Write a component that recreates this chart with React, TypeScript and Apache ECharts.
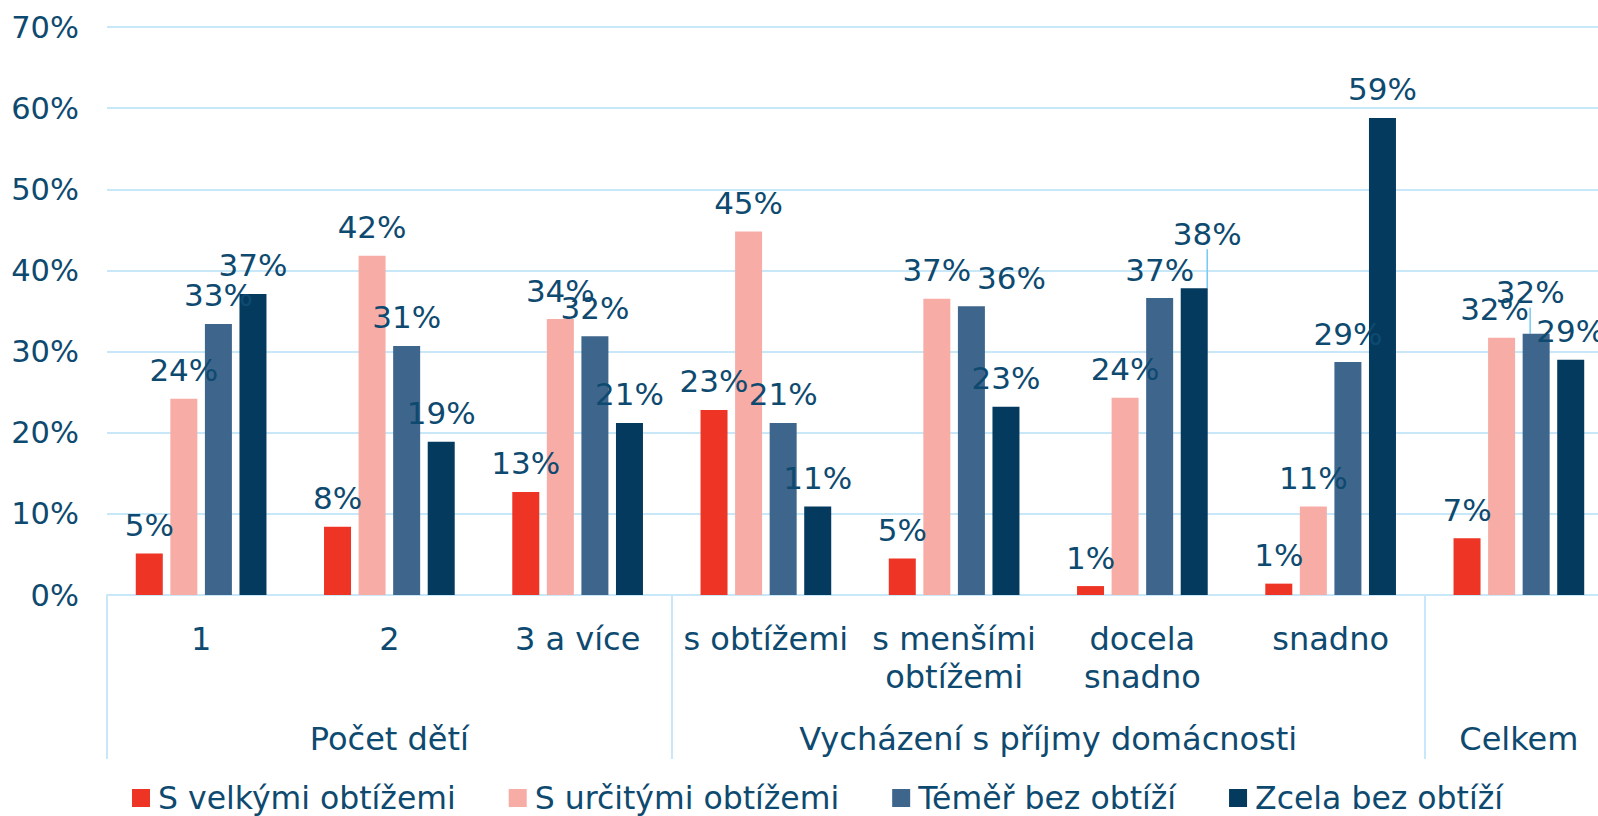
import React, { useEffect, useRef } from "react";
import * as echarts from "echarts";

const categories = ["1", "2", "3 a více", "s obtížemi", "s menšími\nobtížemi", "docela\nsnadno", "snadno", ""];
const groupNames = ["Počet dětí", "Vycházení s příjmy domácnosti", "Celkem"];
const groupSpans = [3, 4, 1];

const seriesNames = ["S velkými obtížemi", "S určitými obtížemi", "Téměř bez obtíží", "Zcela bez obtíží"];
const velkeObtize = [5.1, 8.4, 12.7, 22.8, 4.5, 1.1, 1.4, 7.0];
const urciteObtize = [24.2, 41.8, 34.0, 44.8, 36.5, 24.3, 10.9, 31.7];
const temerBez = [33.4, 30.7, 31.9, 21.2, 35.6, 36.6, 28.7, 32.2];
const zcelaBez = [37.1, 18.9, 21.2, 10.9, 23.2, 37.8, 58.8, 29.0];
const yTicks = [0, 10, 20, 30, 40, 50, 60, 70];

const seriesValues = [velkeObtize, urciteObtize, temerBez, zcelaBez];
const colors = ["#EE3425", "#F7ADA6", "#3E658B", "#033A5E"];

const TEXT = "#0E4A70";
const GRID = "#C8E8F9";
const FONT = "DejaVu Sans";

// manual label adjustments (series-index, data-index)
const labelShifts: Record<string, { dx: number; dy: number; line?: boolean }> = {
  "2-4": { dx: 40, dy: 0 },
  "1-7": { dx: -7, dy: 0 },
  "3-5": { dx: 13, dy: -26, line: true },
  "2-7": { dx: -6, dy: -13, line: true },
};

export default function App() {
  const ref = useRef<HTMLDivElement>(null);
  useEffect(() => {
    if (!ref.current) return;
    const chart = echarts.init(ref.current, null, { renderer: "svg" });

    const boundaries: number[] = [];
    const centers: number[] = [];
    let acc = 0;
    groupSpans.forEach((s) => {
      boundaries.push(acc);
      centers.push(acc + s / 2);
      acc += s;
    });

    const series = seriesValues.map((vals, si) => ({
      name: seriesNames[si],
      type: "bar",
      barWidth: 27,
      barGap: "28%",
      itemStyle: { color: colors[si] },
      label: {
        show: true,
        position: "top",
        distance: 13,
        color: TEXT,
        fontFamily: FONT,
        fontSize: 31,
        formatter: (p: any) => Math.round(p.value) + "%",
      },
      labelLayout: (params: any) => {
        const s = labelShifts[`${si}-${params.dataIndex}`];
        if (s) return { dx: s.dx, dy: s.dy };
        return {};
      },
      data: vals.map((v, di) => {
        const s = labelShifts[`${si}-${di}`];
        if (!s || !s.line) return v;
        return {
          value: v,
          labelLine: { show: true, lineStyle: { color: "#74CBF3", width: 1.5 } },
        };
      }),
    }));

    chart.setOption({
      animation: false,
      backgroundColor: "#ffffff",
      textStyle: { fontFamily: FONT },
      grid: { left: 107, top: 27, bottom: 221, right: 7, containLabel: false },
      legend: {
        left: 127,
        top: 777,
        icon: "rect",
        itemWidth: 18,
        itemHeight: 18,
        itemGap: 53,
        data: seriesNames,
        textStyle: {
          color: TEXT,
          fontFamily: FONT,
          fontSize: 31.5,
          lineHeight: 32,
          padding: [0, 0, 0, 3],
        },
      },
      xAxis: [
        {
          type: "category",
          data: categories,
          position: "bottom",
          axisLine: { show: true, lineStyle: { color: GRID, width: 2 } },
          axisTick: {
            show: true,
            length: 164,
            interval: (index: number) => boundaries.indexOf(index) >= 0,
            lineStyle: { color: GRID, width: 2 },
          },
          axisLabel: {
            interval: 0,
            margin: 25,
            color: TEXT,
            fontFamily: FONT,
            fontSize: 32,
            lineHeight: 38,
          },
        },
        {
          type: "value",
          position: "bottom",
          min: 0,
          max: acc,
          interval: 0.5,
          axisLine: { show: false },
          axisTick: { show: false },
          splitLine: { show: false },
          axisLabel: {
            margin: 125,
            color: TEXT,
            fontFamily: FONT,
            fontSize: 32,
            lineHeight: 38,
            formatter: (v: number) => {
              const idx = centers.findIndex((c) => Math.abs(c - v) < 1e-6);
              return idx >= 0 ? groupNames[idx] : "";
            },
          },
        },
      ],
      yAxis: {
        type: "value",
        min: yTicks[0],
        max: yTicks[yTicks.length - 1],
        interval: 10,
        axisLine: { show: false },
        axisTick: { show: false },
        splitLine: { show: true, lineStyle: { color: GRID, width: 2 } },
        axisLabel: {
          margin: 28,
          color: TEXT,
          fontFamily: FONT,
          fontSize: 30.5,
          formatter: "{value}%",
        },
      },
      series,
    });
    return () => chart.dispose();
  }, []);

  return (
    <div
      style={{
        position: "fixed",
        left: 0,
        top: 0,
        width: 1598,
        height: 816,
        overflow: "hidden",
        background: "#fff",
      }}
    >
      <div ref={ref} style={{ width: 1620, height: 816 }} />
    </div>
  );
}
